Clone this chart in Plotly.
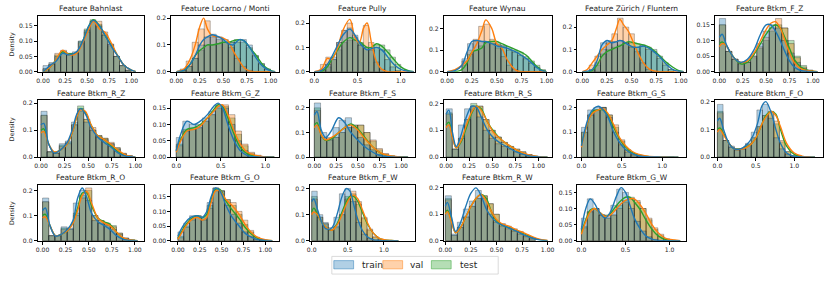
import numpy as np
import plotly.graph_objects as go

FEATURES = ["Bahnlast", "Locarno / Monti", "Pully", "Wynau", "Zürich / Fluntern", "Btkm_F_Z",
            "Btkm_R_Z", "Btkm_G_Z", "Btkm_F_S", "Btkm_R_S", "Btkm_G_S", "Btkm_F_O",
            "Btkm_R_O", "Btkm_G_O", "Btkm_F_W", "Btkm_R_W", "Btkm_G_W"]
SPLITS = ["train", "val", "test"]

# histogram bin ranges (15 bins each)
BIN_LO = [0.0, 0.04, 0.07, 0.15, 0.07, 0.0, 0.0, 0.0, 0.0, 0.0, 0.0, 0.0, 0.0, 0.0, 0.0, 0.0, 0.0]
BIN_HI = [1.0, 1.0, 1.0, 0.99, 0.93, 1.0, 0.97, 1.1, 1.07, 1.0, 1.15, 1.1, 1.0, 1.0, 1.15, 0.88, 1.0]

HIST_TRAIN = [
    [0.02, 0.03, 0.05, 0.065, 0.06, 0.065, 0.10, 0.135, 0.165, 0.15, 0.12, 0.09, 0.05, 0.02, 0.005],
    [0.005, 0.02, 0.05, 0.1, 0.13, 0.14, 0.13, 0.12, 0.11, 0.11, 0.12, 0.1, 0.06, 0.03, 0.01],
    [0.01, 0.03, 0.06, 0.12, 0.17, 0.18, 0.15, 0.11, 0.1, 0.09, 0.1, 0.09, 0.05, 0.02, 0.005],
    [0.06, 0.13, 0.14, 0.14, 0.135, 0.13, 0.125, 0.12, 0.1, 0.09, 0.075, 0.06, 0.04, 0.02, 0.005],
    [0.01, 0.04, 0.13, 0.14, 0.135, 0.14, 0.13, 0.11, 0.11, 0.115, 0.1, 0.09, 0.06, 0.03, 0.01],
    [0.17, 0.065, 0.04, 0.025, 0.03, 0.05, 0.09, 0.13, 0.15, 0.14, 0.1, 0.06, 0.03, 0.01, 0.002],
    [0.17, 0.02, 0.015, 0.05, 0.06, 0.13, 0.18, 0.13, 0.1, 0.075, 0.065, 0.05, 0.03, 0.012, 0.004],
    [0.06, 0.11, 0.1, 0.1, 0.12, 0.14, 0.16, 0.15, 0.1, 0.05, 0.02, 0.007, 0.002, 0.001, 0.0],
    [0.22, 0.1, 0.08, 0.12, 0.15, 0.16, 0.12, 0.08, 0.05, 0.03, 0.012, 0.004, 0.001, 0.0, 0.0],
    [0.18, 0.03, 0.12, 0.18, 0.19, 0.15, 0.1, 0.07, 0.05, 0.04, 0.03, 0.02, 0.012, 0.005, 0.002],
    [0.12, 0.19, 0.2, 0.2, 0.16, 0.1, 0.05, 0.02, 0.008, 0.003, 0.001, 0.0, 0.0, 0.0, 0.0],
    [0.19, 0.06, 0.04, 0.025, 0.03, 0.05, 0.09, 0.17, 0.19, 0.14, 0.07, 0.03, 0.01, 0.003, 0.001],
    [0.17, 0.02, 0.02, 0.055, 0.05, 0.15, 0.2, 0.16, 0.08, 0.07, 0.06, 0.045, 0.025, 0.01, 0.003],
    [0.03, 0.06, 0.085, 0.08, 0.08, 0.13, 0.18, 0.17, 0.12, 0.09, 0.06, 0.03, 0.015, 0.005, 0.001],
    [0.19, 0.1, 0.07, 0.05, 0.09, 0.18, 0.2, 0.15, 0.07, 0.025, 0.008, 0.002, 0.0, 0.0, 0.0],
    [0.17, 0.025, 0.07, 0.12, 0.15, 0.19, 0.16, 0.1, 0.07, 0.055, 0.045, 0.035, 0.025, 0.015, 0.006],
    [0.07, 0.13, 0.1, 0.08, 0.08, 0.11, 0.16, 0.15, 0.1, 0.06, 0.03, 0.012, 0.004, 0.001, 0.0],
]
HIST_VAL = [
    [0.01, 0.025, 0.06, 0.07, 0.055, 0.06, 0.095, 0.13, 0.165, 0.165, 0.13, 0.09, 0.05, 0.02, 0.005],
    [0.01, 0.04, 0.11, 0.16, 0.19, 0.13, 0.12, 0.11, 0.09, 0.05, 0.02, 0.005, 0.0, 0.0, 0.0],
    [0.03, 0.06, 0.05, 0.12, 0.17, 0.2, 0.14, 0.11, 0.19, 0.12, 0.04, 0.01, 0.0, 0.0, 0.0],
    [0.05, 0.1, 0.15, 0.21, 0.22, 0.15, 0.11, 0.07, 0.03, 0.01, 0.0, 0.0, 0.0, 0.0, 0.0],
    [0.03, 0.07, 0.1, 0.13, 0.17, 0.24, 0.2, 0.17, 0.09, 0.04, 0.01, 0.0, 0.0, 0.0, 0.0],
    [0.15, 0.065, 0.04, 0.03, 0.03, 0.05, 0.08, 0.11, 0.14, 0.17, 0.14, 0.09, 0.045, 0.015, 0.005],
    [0.155, 0.02, 0.015, 0.04, 0.05, 0.12, 0.17, 0.14, 0.11, 0.08, 0.07, 0.055, 0.035, 0.015, 0.006],
    [0.035, 0.08, 0.085, 0.09, 0.11, 0.13, 0.15, 0.16, 0.13, 0.08, 0.04, 0.015, 0.006, 0.002, 0.001],
    [0.19, 0.08, 0.07, 0.08, 0.1, 0.12, 0.13, 0.13, 0.1, 0.07, 0.035, 0.015, 0.006, 0.002, 0.0],
    [0.16, 0.03, 0.07, 0.14, 0.19, 0.19, 0.14, 0.1, 0.075, 0.055, 0.04, 0.03, 0.02, 0.01, 0.004],
    [0.1, 0.17, 0.19, 0.2, 0.17, 0.13, 0.07, 0.03, 0.013, 0.005, 0.002, 0.001, 0.0, 0.0, 0.0],
    [0.16, 0.06, 0.035, 0.03, 0.03, 0.045, 0.07, 0.11, 0.15, 0.16, 0.13, 0.06, 0.02, 0.006, 0.002],
    [0.155, 0.02, 0.02, 0.045, 0.045, 0.1, 0.17, 0.21, 0.1, 0.08, 0.065, 0.055, 0.03, 0.01, 0.003],
    [0.01, 0.045, 0.07, 0.085, 0.07, 0.11, 0.17, 0.17, 0.14, 0.13, 0.1, 0.07, 0.035, 0.012, 0.003],
    [0.16, 0.09, 0.065, 0.04, 0.05, 0.1, 0.16, 0.19, 0.15, 0.09, 0.045, 0.015, 0.005, 0.001, 0.0],
    [0.155, 0.02, 0.05, 0.09, 0.13, 0.16, 0.17, 0.14, 0.1, 0.065, 0.055, 0.045, 0.035, 0.02, 0.01],
    [0.04, 0.09, 0.1, 0.08, 0.07, 0.08, 0.1, 0.12, 0.13, 0.125, 0.1, 0.07, 0.04, 0.02, 0.006],
]
HIST_TEST = [
    [0.01, 0.025, 0.055, 0.065, 0.06, 0.06, 0.1, 0.14, 0.17, 0.155, 0.12, 0.085, 0.05, 0.02, 0.005],
    [0.005, 0.02, 0.05, 0.08, 0.1, 0.1, 0.105, 0.11, 0.11, 0.12, 0.11, 0.09, 0.06, 0.03, 0.01],
    [0.005, 0.02, 0.05, 0.09, 0.12, 0.13, 0.13, 0.12, 0.1, 0.09, 0.11, 0.11, 0.09, 0.06, 0.03],
    [0.03, 0.08, 0.1, 0.12, 0.14, 0.14, 0.13, 0.12, 0.11, 0.1, 0.09, 0.07, 0.05, 0.03, 0.01],
    [0.005, 0.03, 0.08, 0.1, 0.11, 0.12, 0.13, 0.13, 0.125, 0.12, 0.11, 0.1, 0.07, 0.04, 0.01],
    [0.15, 0.065, 0.04, 0.03, 0.03, 0.045, 0.075, 0.1, 0.13, 0.15, 0.14, 0.1, 0.05, 0.02, 0.005],
    [0.155, 0.02, 0.015, 0.045, 0.055, 0.12, 0.19, 0.14, 0.1, 0.08, 0.07, 0.05, 0.035, 0.013, 0.005],
    [0.04, 0.085, 0.085, 0.09, 0.11, 0.13, 0.155, 0.155, 0.12, 0.07, 0.035, 0.012, 0.004, 0.001, 0.0],
    [0.2, 0.08, 0.07, 0.08, 0.1, 0.12, 0.13, 0.13, 0.1, 0.065, 0.03, 0.012, 0.005, 0.001, 0.0],
    [0.165, 0.03, 0.07, 0.14, 0.2, 0.19, 0.14, 0.1, 0.075, 0.055, 0.04, 0.03, 0.02, 0.01, 0.004],
    [0.1, 0.17, 0.19, 0.2, 0.17, 0.12, 0.065, 0.028, 0.012, 0.004, 0.001, 0.0, 0.0, 0.0, 0.0],
    [0.165, 0.06, 0.035, 0.03, 0.03, 0.045, 0.07, 0.11, 0.15, 0.165, 0.12, 0.055, 0.02, 0.005, 0.002],
    [0.155, 0.02, 0.02, 0.05, 0.045, 0.11, 0.18, 0.2, 0.1, 0.08, 0.07, 0.06, 0.03, 0.01, 0.003],
    [0.015, 0.05, 0.075, 0.085, 0.075, 0.12, 0.18, 0.17, 0.14, 0.12, 0.09, 0.055, 0.03, 0.01, 0.002],
    [0.17, 0.09, 0.065, 0.04, 0.055, 0.1, 0.17, 0.18, 0.14, 0.085, 0.04, 0.013, 0.004, 0.001, 0.0],
    [0.16, 0.02, 0.05, 0.09, 0.13, 0.16, 0.17, 0.14, 0.1, 0.06, 0.05, 0.04, 0.03, 0.018, 0.008],
    [0.045, 0.09, 0.1, 0.08, 0.07, 0.08, 0.11, 0.125, 0.135, 0.12, 0.1, 0.065, 0.035, 0.015, 0.004],
]

KDE_X = [
    [0, 0.08, 0.15, 0.22, 0.3, 0.38, 0.45, 0.52, 0.57, 0.64, 0.7, 0.78, 0.85, 0.92, 1.0, 1.05],
    [0, 0.08, 0.15, 0.2, 0.25, 0.29, 0.33, 0.38, 0.45, 0.5, 0.55, 0.6, 0.67, 0.72, 0.78, 0.85, 0.92, 1.0, 1.05],
    [0, 0.08, 0.15, 0.2, 0.27, 0.33, 0.41, 0.47, 0.52, 0.57, 0.61, 0.66, 0.72, 0.78, 0.85, 0.92, 1.0, 1.08, 1.15],
    [0, 0.08, 0.15, 0.2, 0.25, 0.3, 0.35, 0.39, 0.45, 0.5, 0.55, 0.6, 0.65, 0.7, 0.75, 0.8, 0.85, 0.9, 0.95, 1.0],
    [0, 0.05, 0.1, 0.15, 0.2, 0.25, 0.3, 0.35, 0.38, 0.42, 0.47, 0.52, 0.57, 0.62, 0.68, 0.74, 0.8, 0.86, 0.92, 0.98, 1.03],
    [0, 0.03, 0.07, 0.12, 0.17, 0.23, 0.3, 0.37, 0.44, 0.5, 0.55, 0.6, 0.65, 0.7, 0.75, 0.8, 0.87, 0.95, 1.05],
    [0, 0.03, 0.08, 0.14, 0.2, 0.27, 0.33, 0.38, 0.42, 0.47, 0.53, 0.6, 0.67, 0.75, 0.82, 0.9, 1.0],
    [0, 0.05, 0.12, 0.2, 0.27, 0.35, 0.42, 0.47, 0.52, 0.58, 0.65, 0.72, 0.8, 0.9, 1.0, 1.1],
    [0, 0.03, 0.08, 0.13, 0.2, 0.28, 0.35, 0.42, 0.5, 0.57, 0.65, 0.73, 0.8, 0.9, 1.0, 1.08],
    [0, 0.03, 0.07, 0.11, 0.16, 0.22, 0.28, 0.33, 0.38, 0.45, 0.52, 0.6, 0.68, 0.75, 0.82, 0.9, 1.0, 1.1],
    [0, 0.05, 0.1, 0.15, 0.21, 0.27, 0.33, 0.4, 0.47, 0.55, 0.62, 0.7, 0.8, 0.9, 1.0, 1.1, 1.2],
    [0, 0.03, 0.08, 0.15, 0.22, 0.3, 0.38, 0.45, 0.52, 0.58, 0.63, 0.7, 0.76, 0.82, 0.9, 1.0, 1.1, 1.2, 1.27],
    [0, 0.03, 0.08, 0.14, 0.2, 0.27, 0.33, 0.38, 0.43, 0.48, 0.53, 0.6, 0.67, 0.73, 0.8, 0.87, 0.95, 1.03],
    [0, 0.03, 0.08, 0.15, 0.22, 0.28, 0.33, 0.38, 0.43, 0.48, 0.55, 0.62, 0.7, 0.77, 0.85, 0.92, 1.0, 1.08],
    [0, 0.03, 0.08, 0.14, 0.2, 0.28, 0.35, 0.42, 0.48, 0.53, 0.58, 0.64, 0.7, 0.77, 0.85, 0.93, 1.0, 1.1, 1.2],
    [0, 0.02, 0.06, 0.1, 0.15, 0.2, 0.25, 0.3, 0.35, 0.4, 0.45, 0.5, 0.55, 0.62, 0.7, 0.78, 0.85, 0.92, 1.0],
    [0, 0.05, 0.1, 0.15, 0.2, 0.27, 0.33, 0.4, 0.45, 0.5, 0.55, 0.6, 0.67, 0.73, 0.8, 0.87, 0.95, 1.05, 1.12],
]
KDE_TRAIN = [
    [0, 0.02, 0.035, 0.06, 0.055, 0.065, 0.10, 0.15, 0.168, 0.15, 0.12, 0.08, 0.05, 0.02, 0.005, 0],
    [0, 0.005, 0.03, 0.06, 0.1, 0.12, 0.13, 0.138, 0.13, 0.12, 0.105, 0.1, 0.12, 0.115, 0.09, 0.05, 0.02, 0.003, 0],
    [0, 0.005, 0.03, 0.06, 0.11, 0.15, 0.175, 0.15, 0.12, 0.1, 0.09, 0.095, 0.1, 0.09, 0.06, 0.03, 0.01, 0.002, 0],
    [0, 0.005, 0.03, 0.09, 0.14, 0.145, 0.14, 0.14, 0.13, 0.12, 0.115, 0.11, 0.1, 0.09, 0.075, 0.06, 0.04, 0.02, 0.005, 0],
    [0, 0.002, 0.01, 0.05, 0.12, 0.14, 0.13, 0.135, 0.14, 0.135, 0.12, 0.11, 0.11, 0.115, 0.105, 0.085, 0.06, 0.03, 0.01, 0.002, 0],
    [0.11, 0.12, 0.09, 0.06, 0.04, 0.03, 0.04, 0.07, 0.12, 0.15, 0.15, 0.13, 0.1, 0.065, 0.035, 0.015, 0.004, 0.001, 0],
    [0.12, 0.125, 0.05, 0.015, 0.025, 0.05, 0.1, 0.16, 0.18, 0.16, 0.11, 0.075, 0.055, 0.035, 0.015, 0.004, 0],
    [0.02, 0.07, 0.11, 0.1, 0.11, 0.13, 0.155, 0.165, 0.15, 0.1, 0.05, 0.02, 0.005, 0.001, 0, 0],
    [0.17, 0.185, 0.11, 0.08, 0.11, 0.16, 0.14, 0.1, 0.07, 0.045, 0.025, 0.01, 0.004, 0.001, 0, 0],
    [0.16, 0.175, 0.09, 0.04, 0.08, 0.15, 0.19, 0.185, 0.15, 0.1, 0.07, 0.05, 0.035, 0.022, 0.012, 0.005, 0.001, 0],
    [0.045, 0.12, 0.17, 0.195, 0.205, 0.19, 0.16, 0.1, 0.06, 0.03, 0.015, 0.006, 0.002, 0.001, 0, 0, 0],
    [0.13, 0.14, 0.1, 0.05, 0.03, 0.03, 0.045, 0.07, 0.12, 0.185, 0.2, 0.16, 0.1, 0.05, 0.015, 0.003, 0.001, 0, 0],
    [0.12, 0.13, 0.06, 0.018, 0.025, 0.045, 0.08, 0.17, 0.21, 0.17, 0.11, 0.075, 0.06, 0.045, 0.02, 0.006, 0.001, 0],
    [0.015, 0.035, 0.06, 0.08, 0.085, 0.08, 0.1, 0.15, 0.18, 0.17, 0.12, 0.08, 0.05, 0.025, 0.01, 0.003, 0.001, 0],
    [0.15, 0.16, 0.12, 0.07, 0.045, 0.05, 0.1, 0.17, 0.2, 0.19, 0.14, 0.08, 0.04, 0.015, 0.004, 0.001, 0, 0, 0],
    [0.13, 0.145, 0.09, 0.035, 0.07, 0.13, 0.18, 0.2, 0.17, 0.12, 0.09, 0.07, 0.06, 0.048, 0.035, 0.02, 0.01, 0.003, 0],
    [0.035, 0.1, 0.13, 0.115, 0.09, 0.07, 0.09, 0.14, 0.165, 0.15, 0.11, 0.07, 0.035, 0.015, 0.005, 0.001, 0, 0, 0],
]
KDE_VAL = [
    [0, 0.015, 0.04, 0.07, 0.055, 0.06, 0.095, 0.14, 0.165, 0.14, 0.13, 0.09, 0.05, 0.02, 0.005, 0],
    [0, 0.01, 0.05, 0.1, 0.17, 0.2, 0.16, 0.135, 0.13, 0.125, 0.115, 0.08, 0.04, 0.015, 0.002, 0, 0, 0, 0],
    [0, 0.01, 0.055, 0.05, 0.1, 0.17, 0.215, 0.14, 0.12, 0.18, 0.2, 0.12, 0.04, 0.01, 0, 0, 0, 0, 0],
    [0, 0.01, 0.03, 0.05, 0.09, 0.13, 0.19, 0.24, 0.2, 0.13, 0.11, 0.06, 0.025, 0.005, 0, 0, 0, 0, 0, 0],
    [0, 0.01, 0.04, 0.07, 0.1, 0.12, 0.14, 0.2, 0.235, 0.21, 0.18, 0.13, 0.08, 0.04, 0.012, 0.002, 0, 0, 0, 0, 0],
    [0.08, 0.09, 0.085, 0.06, 0.04, 0.03, 0.035, 0.06, 0.1, 0.135, 0.155, 0.16, 0.14, 0.1, 0.06, 0.03, 0.01, 0.003, 0],
    [0.09, 0.095, 0.05, 0.02, 0.025, 0.045, 0.09, 0.15, 0.175, 0.17, 0.12, 0.08, 0.065, 0.045, 0.025, 0.008, 0],
    [0.015, 0.05, 0.08, 0.085, 0.095, 0.12, 0.14, 0.155, 0.16, 0.13, 0.08, 0.04, 0.015, 0.005, 0.001, 0],
    [0.12, 0.13, 0.09, 0.07, 0.08, 0.1, 0.12, 0.13, 0.11, 0.08, 0.05, 0.025, 0.012, 0.004, 0.001, 0],
    [0.11, 0.12, 0.07, 0.035, 0.06, 0.12, 0.17, 0.19, 0.175, 0.13, 0.09, 0.065, 0.045, 0.03, 0.018, 0.008, 0.002, 0],
    [0.04, 0.11, 0.16, 0.18, 0.19, 0.195, 0.175, 0.13, 0.08, 0.045, 0.025, 0.012, 0.005, 0.002, 0.001, 0, 0],
    [0.09, 0.1, 0.08, 0.05, 0.03, 0.028, 0.035, 0.05, 0.08, 0.12, 0.145, 0.165, 0.15, 0.11, 0.05, 0.015, 0.004, 0.001, 0],
    [0.09, 0.095, 0.06, 0.02, 0.025, 0.04, 0.07, 0.12, 0.18, 0.195, 0.15, 0.09, 0.07, 0.06, 0.035, 0.012, 0.003, 0],
    [0.005, 0.02, 0.045, 0.07, 0.08, 0.07, 0.08, 0.13, 0.17, 0.17, 0.14, 0.12, 0.09, 0.055, 0.025, 0.01, 0.003, 0],
    [0.1, 0.11, 0.1, 0.07, 0.05, 0.04, 0.06, 0.1, 0.14, 0.165, 0.175, 0.16, 0.12, 0.07, 0.03, 0.01, 0.004, 0.001, 0],
    [0.1, 0.11, 0.07, 0.03, 0.05, 0.09, 0.13, 0.16, 0.175, 0.15, 0.11, 0.08, 0.065, 0.055, 0.04, 0.028, 0.015, 0.006, 0.001],
    [0.02, 0.06, 0.09, 0.1, 0.09, 0.075, 0.08, 0.1, 0.115, 0.125, 0.13, 0.13, 0.11, 0.085, 0.05, 0.025, 0.008, 0.002, 0],
]
KDE_TEST = [
    [0, 0.015, 0.04, 0.065, 0.058, 0.062, 0.1, 0.15, 0.17, 0.15, 0.12, 0.085, 0.05, 0.02, 0.005, 0],
    [0, 0.005, 0.03, 0.06, 0.08, 0.09, 0.1, 0.1, 0.105, 0.11, 0.11, 0.115, 0.12, 0.115, 0.09, 0.06, 0.025, 0.005, 0],
    [0, 0, 0.02, 0.05, 0.09, 0.12, 0.14, 0.13, 0.125, 0.11, 0.1, 0.1, 0.115, 0.105, 0.08, 0.05, 0.02, 0.005, 0],
    [0, 0, 0.01, 0.04, 0.09, 0.1, 0.11, 0.135, 0.14, 0.14, 0.13, 0.12, 0.11, 0.1, 0.09, 0.075, 0.05, 0.025, 0.008, 0],
    [0, 0, 0.005, 0.03, 0.07, 0.09, 0.1, 0.11, 0.115, 0.125, 0.135, 0.13, 0.125, 0.12, 0.11, 0.09, 0.065, 0.04, 0.02, 0.005, 0],
    [0.09, 0.095, 0.085, 0.06, 0.04, 0.025, 0.03, 0.055, 0.09, 0.12, 0.14, 0.15, 0.14, 0.11, 0.075, 0.04, 0.015, 0.004, 0],
    [0.1, 0.105, 0.05, 0.018, 0.025, 0.045, 0.09, 0.15, 0.18, 0.165, 0.12, 0.08, 0.065, 0.04, 0.02, 0.006, 0],
    [0.02, 0.055, 0.085, 0.09, 0.1, 0.12, 0.145, 0.16, 0.155, 0.12, 0.07, 0.03, 0.01, 0.003, 0, 0],
    [0.13, 0.14, 0.09, 0.068, 0.075, 0.1, 0.12, 0.135, 0.115, 0.085, 0.05, 0.025, 0.01, 0.003, 0.001, 0],
    [0.12, 0.13, 0.075, 0.035, 0.055, 0.11, 0.165, 0.19, 0.18, 0.13, 0.095, 0.065, 0.045, 0.03, 0.017, 0.007, 0.002, 0],
    [0.05, 0.11, 0.16, 0.185, 0.19, 0.19, 0.17, 0.12, 0.075, 0.04, 0.02, 0.01, 0.004, 0.001, 0, 0, 0],
    [0.1, 0.105, 0.085, 0.05, 0.03, 0.03, 0.037, 0.05, 0.08, 0.12, 0.15, 0.165, 0.155, 0.1, 0.04, 0.01, 0.002, 0, 0],
    [0.1, 0.105, 0.06, 0.02, 0.025, 0.04, 0.075, 0.13, 0.19, 0.19, 0.14, 0.09, 0.075, 0.065, 0.035, 0.01, 0.002, 0],
    [0.008, 0.025, 0.05, 0.075, 0.085, 0.078, 0.09, 0.14, 0.175, 0.175, 0.135, 0.105, 0.075, 0.045, 0.02, 0.007, 0.002, 0],
    [0.11, 0.125, 0.1, 0.07, 0.05, 0.04, 0.065, 0.11, 0.15, 0.17, 0.17, 0.15, 0.11, 0.065, 0.03, 0.01, 0.003, 0.001, 0],
    [0.105, 0.115, 0.075, 0.03, 0.05, 0.09, 0.13, 0.16, 0.175, 0.16, 0.11, 0.075, 0.06, 0.05, 0.038, 0.025, 0.012, 0.004, 0],
    [0.025, 0.065, 0.095, 0.1, 0.09, 0.075, 0.085, 0.11, 0.125, 0.135, 0.135, 0.12, 0.095, 0.065, 0.035, 0.015, 0.004, 0.001, 0],
]

# axis configuration
X_RANGE = [[-0.06, 1.14], [-0.053, 1.094], [-0.05, 1.164], [-0.033, 1.052], [-0.05, 1.057], [-0.046, 1.109],
           [-0.035, 1.088], [-0.055, 1.158], [-0.05, 1.16], [-0.026, 1.146], [-0.05, 1.30], [-0.03, 1.374],
           [-0.053, 1.095], [-0.075, 1.16], [-0.023, 1.43], [-0.016, 1.04], [-0.045, 1.19]]
Y_TOP = [0.183, 0.209, 0.23, 0.259, 0.251, 0.179, 0.211, 0.174, 0.231, 0.212, 0.229, 0.205,
         0.223, 0.191, 0.215, 0.212, 0.174]
X_DTICK = [0.25, 0.25, 0.5, 0.25, 0.25, 0.25, 0.25, 0.5, 0.25, 0.25, 0.5, 0.5, 0.25, 0.25, 0.5, 0.25, 0.5]
Y_DTICK = [0.05, 0.1, 0.1, 0.1, 0.1, 0.05, 0.1, 0.05, 0.1, 0.1, 0.1, 0.1, 0.1, 0.05, 0.1, 0.1, 0.05]

W, H = 831, 281
COL_PX = [(33, 140), (168, 277), (308, 414), (443, 552), (578, 688), (717, 826)]
ROW_PX = [(14, 71), (100, 158), (186, 243)]

COLORS = {"train": (31, 119, 180), "val": (255, 127, 14), "test": (44, 160, 44)}
DRAW_ORDER = ["test", "val", "train"]
FONT = "DejaVu Sans, Arial, sans-serif"
TXT = "#262626"


def rgba(c, a):
    return f"rgba({c[0]},{c[1]},{c[2]},{a})"


def px(xp, yp):
    return xp / W, 1 - yp / H


fig = go.Figure()
layout = {}
annotations = []
shapes = []

for i, feat in enumerate(FEATURES):
    r, c = divmod(i, 6)
    sfx = "" if i == 0 else str(i + 1)
    xa, ya = "x" + sfx, "y" + sfx
    edges = np.linspace(BIN_LO[i], BIN_HI[i], 16)
    centers = (edges[:-1] + edges[1:]) / 2
    width = edges[1] - edges[0]
    hists = {"train": HIST_TRAIN[i], "val": HIST_VAL[i], "test": HIST_TEST[i]}
    kdes = {"train": KDE_TRAIN[i], "val": KDE_VAL[i], "test": KDE_TEST[i]}
    for s in DRAW_ORDER:
        fig.add_trace(go.Bar(
            x=centers, y=hists[s], width=width, xaxis=xa, yaxis=ya,
            marker=dict(color=rgba(COLORS[s], 0.35), line=dict(color="rgba(0,0,0,0.33)", width=0.8)),
            showlegend=False, hoverinfo="skip"))
    for s in DRAW_ORDER:
        fig.add_trace(go.Scatter(
            x=KDE_X[i], y=kdes[s], mode="lines", xaxis=xa, yaxis=ya,
            line=dict(color=rgba(COLORS[s], 1), width=1.4, shape="spline", smoothing=1.0),
            showlegend=False, hoverinfo="skip"))

    x0, x1 = COL_PX[c]
    y0, y1 = ROW_PX[r]
    xd = [x0 / W, x1 / W]
    yd = [1 - y1 / H, 1 - y0 / H]
    axis_common = dict(showline=True, mirror=True, linecolor="#000", linewidth=0.8,
                       ticks="outside", ticklen=3, tickwidth=0.8, tickcolor="#000",
                       showgrid=False, zeroline=False,
                       tickfont=dict(family=FONT, size=6.1, color=TXT))
    layout["xaxis" + sfx] = dict(domain=xd, range=X_RANGE[i], anchor=ya, tick0=0, dtick=X_DTICK[i],
                                 tickformat=".2f" if X_DTICK[i] == 0.25 else ".1f", **axis_common)
    layout["yaxis" + sfx] = dict(domain=yd, range=[0, Y_TOP[i]], anchor=xa, tick0=0, dtick=Y_DTICK[i],
                                 tickformat=".2f" if Y_DTICK[i] == 0.05 else ".1f", **axis_common)
    if c == 0:
        ax_, ay_ = px(6.5, (y0 + y1) / 2)
        annotations.append(dict(text="Density", xref="paper", yref="paper", x=ax_, y=ay_,
                                xanchor="center", yanchor="middle", textangle=-90, showarrow=False,
                                font=dict(family=FONT, size=6.3, color=TXT)))
    annotations.append(dict(text="Feature " + feat, xref="paper", yref="paper",
                            x=(xd[0] + xd[1]) / 2, y=yd[1], xanchor="center", yanchor="bottom",
                            yshift=0.5, showarrow=False,
                            font=dict(family=FONT, size=7.5, color=TXT)))

# legend (drawn as patches + labels)
LEG_BOX = (330, 259, 498, 277)
LEG_PATCH_X = [332, 381.5, 430.5]
LEG_TEXT_X = [358, 406.5, 457]
bx0, by0 = px(LEG_BOX[0], LEG_BOX[3])
bx1, by1 = px(LEG_BOX[2], LEG_BOX[1])
shapes.append(dict(type="rect", xref="paper", yref="paper", x0=bx0, y0=by0, x1=bx1, y1=by1,
                   line=dict(color="#d0d0d0", width=0.8), fillcolor="rgba(255,255,255,0.8)", layer="above"))
for k, s in enumerate(SPLITS):
    p0x, p0y = px(LEG_PATCH_X[k], 271.7)
    p1x, p1y = px(LEG_PATCH_X[k] + 20, 263.3)
    shapes.append(dict(type="rect", xref="paper", yref="paper", x0=p0x, y0=p0y, x1=p1x, y1=p1y,
                       line=dict(color=rgba(COLORS[s], 0.6), width=0.8),
                       fillcolor=rgba(COLORS[s], 0.35), layer="above"))
    tx, ty = px(LEG_TEXT_X[k], 267.5)
    annotations.append(dict(text=s, xref="paper", yref="paper", x=tx, y=ty, xanchor="left",
                            yanchor="middle", showarrow=False,
                            font=dict(family=FONT, size=9, color=TXT)))

fig.update_layout(
    width=W, height=H, margin=dict(l=0, r=0, t=0, b=0),
    paper_bgcolor="white", plot_bgcolor="white", barmode="overlay",
    showlegend=False, annotations=annotations, shapes=shapes,
    **layout)

fig.write_html("out.html", config={"displayModeBar": False},
               post_script="document.body.style.margin='0';")
